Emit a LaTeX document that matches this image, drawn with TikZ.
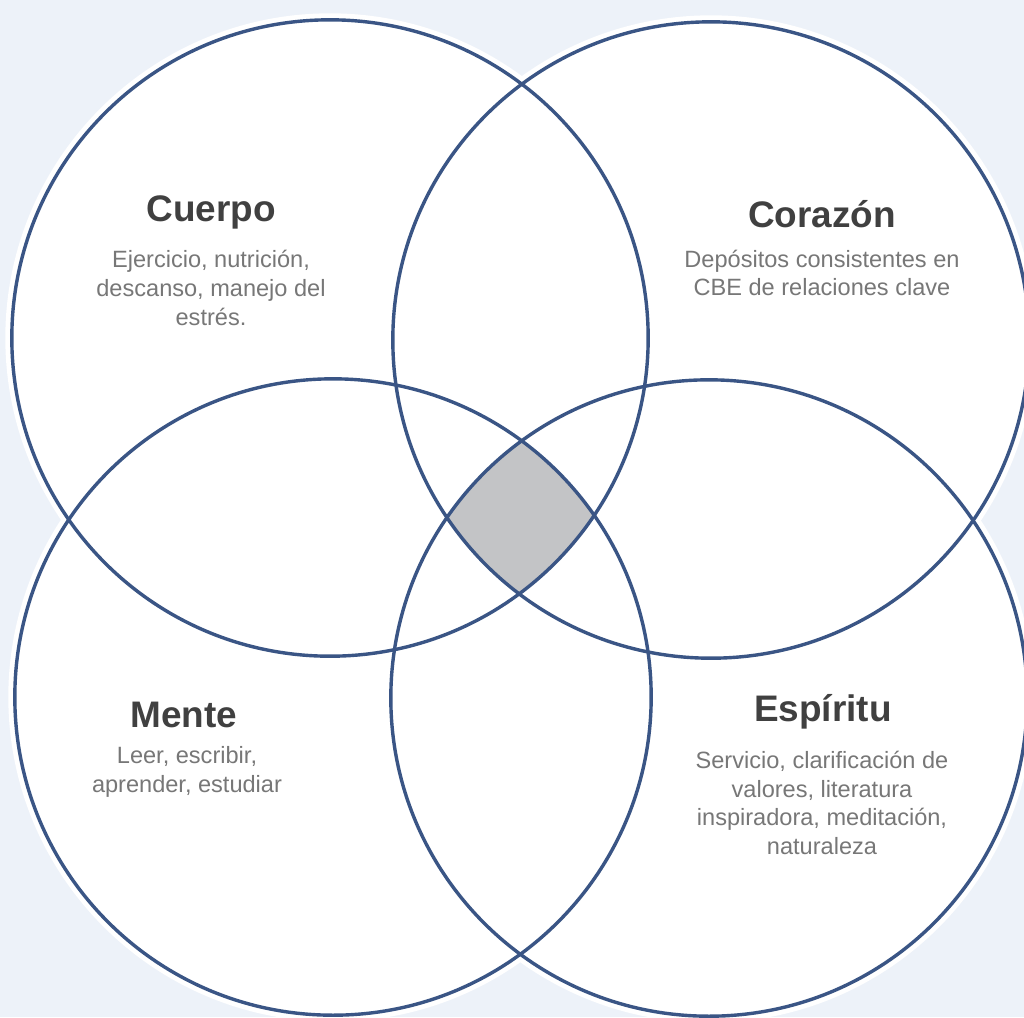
\documentclass[tikz,border=0pt]{standalone}
\usepackage{fontspec}
\setmainfont{Liberation Sans}
\definecolor{bg}{HTML}{EDF2F9}
\definecolor{ring}{HTML}{3A5585}
\definecolor{core}{HTML}{C3C4C6}
\definecolor{titlegray}{HTML}{404040}
\definecolor{bodygray}{HTML}{777777}
\tikzset{
  halo/.style={draw=white,fill=white,line width=0.13cm},
  rim/.style={draw=ring,line width=0.034cm},
  heading/.style={text=titlegray,font=\fontsize{10.5}{12}\selectfont\bfseries},
  blurb/.style={text=bodygray,align=center,font=\fontsize{6.7}{8.2}\selectfont}
}
\begin{document}
\begin{tikzpicture}[x=0.01cm,y=-0.01cm]
            \fill[bg] (0,0) rectangle (1024,1017);
            \useasboundingbox (0,0) rectangle (1024,1017);
            \coordinate (tl) at (330,338);
            \coordinate (tr) at (711,340);
            \coordinate (bl) at (333,697);
            \coordinate (br) at (709,698);
            \foreach \c in {tl,tr,bl,br}
                \path[halo] (\c) circle[radius=3.18cm];
            \begin{scope}
                \clip (tl) circle[radius=3.18cm];
                \clip (tr) circle[radius=3.18cm];
                \clip (bl) circle[radius=3.18cm];
                \clip (br) circle[radius=3.18cm];
                \fill[core] (0,0) rectangle (1024,1017);
            \end{scope}
            \foreach \c in {tl,tr,bl,br}
                \path[rim] (\c) circle[radius=3.18cm];
            \begin{scope}
                \node[heading] (cuerpo) at (211,212) {Cuerpo};
                \node[heading] (corazon) at (822,214) {Corazón};
                \node[heading] (mente) at (184,715) {Mente};
                \node[heading] (espiritu) at (823,712) {Espíritu};
            \end{scope}
            \begin{scope}
                \node[blurb] (cuerpotxt) at (211,288) {Ejercicio, nutrición,\\descanso, manejo del\\estrés.};
                \node[blurb] (corazontxt) at (822,273) {Depósitos consistentes en\\CBE de relaciones clave};
                \node[blurb] (mentetxt) at (187,772) {Leer, escribir,\\aprender, estudiar};
                \node[blurb] (espiritutxt) at (822,803) {Servicio, clarificación de\\valores, literatura\\inspiradora, meditación,\\naturaleza};
            \end{scope}
\end{tikzpicture}
\end{document}
